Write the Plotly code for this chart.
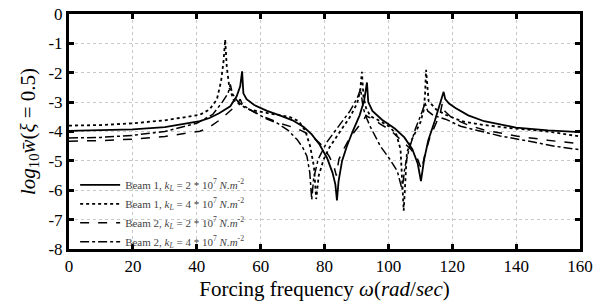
import plotly.graph_objects as go

# ---- data ----
x_ticks = [0, 20, 40, 60, 80, 100, 120, 140, 160]
y_ticks = [0, -1, -2, -3, -4, -5, -6, -7, -8]
y_tick_labels = ["0", "-1", "-2", "-3", "-4", "-5", "-6", "-7", "-8"]

names = [
    "Beam 1, <i>k<sub>L</sub></i> = 2 * 10<sup>7</sup> <i>N.m</i><sup>-2</sup>",
    "Beam 1, <i>k<sub>L</sub></i> = 4 * 10<sup>7</sup> <i>N.m</i><sup>-2</sup>",
    "Beam 2, <i>k<sub>L</sub></i> = 2 * 10<sup>7</sup> <i>N.m</i><sup>-2</sup>",
    "Beam 2, <i>k<sub>L</sub></i> = 4 * 10<sup>7</sup> <i>N.m</i><sup>-2</sup>",
]

b1_k2_x = [0, 10, 20, 30, 41, 44, 47, 50.5, 52.5, 53.6, 54.2, 54.6, 55.6, 58, 62, 66, 70, 73.5, 76, 78.5,
           80.8, 82.5, 83.4, 83.9, 84.4, 85.5, 87, 89, 91, 92.4, 93.3, 93.7, 95, 98, 102, 105, 107.5,
           109.2, 110.2, 111.2, 112.5, 114.5, 116.3, 117.3, 117.8, 119, 121, 125, 130, 140, 150, 160]
b1_k2_y = [-3.98, -3.96, -3.93, -3.85, -3.65, -3.54, -3.38, -3.14, -2.8, -2.46, -1.95, -2.7, -2.9, -3.1,
           -3.3, -3.45, -3.62, -3.85, -4.1, -4.45, -4.9, -5.4, -5.8, -6.35, -5.7, -5.0, -4.5, -3.95, -3.45,
           -2.95, -2.33, -3.0, -3.3, -3.6, -3.9, -4.2, -4.6, -5.1, -5.69, -4.95, -4.3, -3.65, -3.05, -2.65,
           -2.9, -3.05, -3.2, -3.45, -3.65, -3.87, -3.96, -4.02]

b1_k4_x = [0, 10, 20, 30, 41, 44, 46.3, 47.6, 48.4, 48.9, 49.4, 50.2, 51.5, 54, 56.7, 61, 65, 69, 72, 74,
           75.5, 76.7, 77.4, 78.2, 79.7, 81.5, 83.9, 86, 88, 90.2, 91.2, 91.7, 92.2, 93, 94.4, 97.5,
           100.5, 102.5, 103.8, 104.8, 105.8, 107, 108.5, 110, 111.1, 111.5, 111.8, 112.2, 112.6, 115,
           117.9, 123, 130, 138, 150, 160]
b1_k4_y = [-3.8, -3.78, -3.72, -3.62, -3.43, -3.25, -2.91, -2.3, -1.6, -0.87, -1.8, -2.5, -2.92, -3.12,
           -3.26, -3.36, -3.43, -3.5, -3.65, -3.98, -4.5, -5.2, -6.3, -5.5, -4.96, -4.55, -4.16, -3.85,
           -3.5, -3.05, -2.6, -1.97, -2.8, -3.2, -3.48, -3.65, -3.85, -4.1, -4.6, -6.7, -4.73, -4.35,
           -4.05, -3.7, -3.26, -2.7, -1.9, -2.6, -2.97, -3.25, -3.43, -3.65, -3.78, -3.88, -4.0, -4.17]

b2_k2_x = [0, 10, 20, 30, 41, 44, 47.3, 50, 51.5, 52.8, 53.6, 54.3, 55.7, 60, 66, 71.4, 76, 79, 81.5,
           83, 83.7, 84.5, 86, 88, 90.5, 92.3, 93, 93.6, 95.3, 97.5, 100.6, 104, 107, 109, 110.4, 111.5,
           113, 115, 116.3, 116.9, 117.6, 120, 125, 130, 140, 150, 160]
b2_k2_y = [-4.33, -4.31, -4.26, -4.17, -3.99, -3.85, -3.6, -3.35, -3.2, -3.05, -2.9, -3.08, -3.2, -3.45,
           -3.72, -3.9, -4.15, -4.45, -4.85, -5.2, -5.5, -4.95, -4.6, -4.2, -3.85, -3.6, -3.45, -3.5,
           -3.58, -3.75, -3.95, -4.3, -4.6, -4.9, -5.3, -4.75, -4.2, -3.7, -3.35, -3.03, -3.3, -3.55,
           -3.78, -3.95, -4.15, -4.3, -4.42]

b2_k4_x = [0, 10, 20, 30, 40, 45, 48, 49.8, 50.5, 51.2, 53, 56.7, 62, 65.1, 68.5, 71.4, 73.2, 74.5,
           75.4, 76, 76.6, 78, 80.8, 84, 88, 90.3, 91.3, 92.1, 93.2, 94.4, 97.5, 100.5, 102.8, 104.3, 105.2,
           106.5, 108.5, 110.3, 111.5, 112.3, 114, 117.9, 122.6, 127.3, 135, 145, 152, 160]
b2_k4_y = [-4.22, -4.2, -4.13, -4.0, -3.72, -3.42, -3.0, -2.7, -2.4, -2.72, -3.0, -3.26, -3.58, -3.71,
           -3.95, -4.27, -4.55, -4.84, -5.4, -6.32, -5.6, -4.95, -4.35, -3.9, -3.3, -2.85, -2.55, -3.2,
           -3.55, -3.85, -4.5, -4.95, -5.35, -5.98, -5.2, -4.6, -3.9, -3.4, -3.03, -3.3, -3.45, -3.58,
           -3.82, -3.95, -4.15, -4.35, -4.5, -4.62]

series_x = [b1_k2_x, b1_k4_x, b2_k2_x, b2_k4_x]
series_y = [b1_k2_y, b1_k4_y, b2_k2_y, b2_k4_y]
dashes = ["solid", "dot", "dash", "dashdot"]
widths = [1.8, 1.8, 1.5, 1.5]

fig = go.Figure()
for xs, ys, nm, d, w in zip(series_x, series_y, names, dashes, widths):
    fig.add_trace(go.Scatter(x=xs, y=ys, mode="lines", name=nm,
                             line=dict(color="black", dash=d, width=w)))

serif = "Liberation Serif, Times New Roman, serif"

fig.update_layout(
    width=602, height=305,
    margin=dict(l=69, r=22, t=14, b=56),
    paper_bgcolor="white", plot_bgcolor="white",
    font=dict(family=serif, color="black", size=16),
    showlegend=True,
    legend=dict(x=0.012, y=0.335, xanchor="left", yanchor="top",
                bgcolor="rgba(0,0,0,0)", borderwidth=0,
                font=dict(family=serif, size=11, color="#444"),
                tracegroupgap=0, itemwidth=40),
    xaxis=dict(
        range=[0, 160], tickvals=x_ticks, ticktext=[str(v) for v in x_ticks],
        showline=True, linecolor="black", linewidth=3, mirror="ticks",
        ticks="inside", ticklen=5, tickwidth=3, tickcolor="black",
        showgrid=True, gridcolor="#c8c8c8", griddash="dot", gridwidth=1,
        zeroline=False, automargin=False,
        tickfont=dict(family=serif, size=17),
        title=dict(text="Forcing frequency <i>ω</i>(<i>rad</i>/<i>sec</i>)",
                   font=dict(family=serif, size=21), standoff=6),
    ),
    yaxis=dict(
        range=[-8, 0], tickvals=y_ticks, ticktext=y_tick_labels,
        showline=True, linecolor="black", linewidth=3, mirror="ticks",
        ticks="inside", ticklen=5, tickwidth=3, tickcolor="black",
        showgrid=True, gridcolor="#c8c8c8", griddash="dot", gridwidth=1,
        zeroline=False, automargin=False,
        tickfont=dict(family=serif, size=17),
        title=dict(text="<i>log</i><sub>10</sub><i>w\u0304</i>(<i>ξ</i> = 0.5)",
                   font=dict(family=serif, size=21), standoff=8),
    ),
)

# remove the page's default 8px body margin so the 602x305 figure fills the window
fig.write_html("out.html", config={"displayModeBar": False},
               post_script="document.body.style.margin='0px';")
